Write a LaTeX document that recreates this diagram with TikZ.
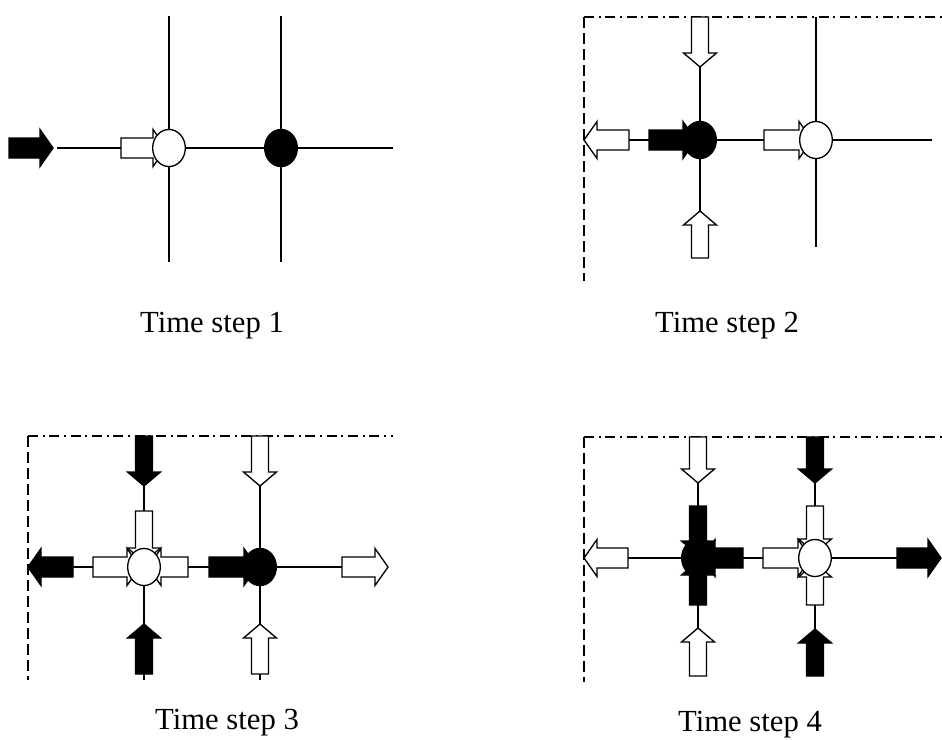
\documentclass[tikz,border=0pt]{standalone}
\usepackage{fontspec}
\setmainfont{Liberation Serif}
\usetikzlibrary{shapes.geometric}
\pgfdeclarelayer{bg}
\pgfsetlayers{bg,main}

% horizontal block arrow: #1 style, #2 tail x, #3 tip x, #4 y
\newcommand\HArr[4]{%
  \pgfmathsetmacro\HAbase{#3-13*sign(#3-#2)}%
  \draw[#1] (#2,#4-10) -- (\HAbase,#4-10) -- (\HAbase,#4-18.5) -- (#3,#4)
    -- (\HAbase,#4+18.5) -- (\HAbase,#4+10) -- (#2,#4+10) -- cycle;}
% vertical block arrow: #1 style, #2 tail y, #3 tip y, #4 x
\newcommand\VArr[4]{%
  \pgfmathsetmacro\VAbase{#3-14*sign(#3-#2)}%
  \draw[#1] (#4-8.5,#2) -- (#4-8.5,\VAbase) -- (#4-16.5,\VAbase) -- (#4,#3)
    -- (#4+16.5,\VAbase) -- (#4+8.5,\VAbase) -- (#4+8.5,#2) -- cycle;}

\tikzset{
  gline/.style={line width=1.1pt},
  wa/.style={draw=black, fill=white, line width=1pt, line join=miter},
  ba/.style={draw=black, fill=black, line width=1pt, line join=miter},
  wnode/.style={ellipse, draw=black, fill=white, line width=1pt,
    minimum width=24.5pt, minimum height=27.8pt, inner sep=0pt, outer sep=0pt},
  bnode/.style={wnode, fill=black},
  frameT/.style={line width=1pt, dash pattern=on 7.5pt off 3.5pt on 1.5pt off 3.5pt},
  frameL/.style={line width=1pt, dash pattern=on 8pt off 4pt},
  lab/.style={font=\fontsize{23}{27}\selectfont, inner sep=0pt, anchor=base}
}

\begin{document}
\begin{tikzpicture}[x=0.75pt, y=-0.75pt]
\useasboundingbox (0,0) rectangle (942,739);

% ---------- Panel 1 ----------
\node[wnode] (p1a) at (169,148) {};
\node[bnode] (p1b) at (281,148) {};
\coordinate (p1aT) at (169,16); \coordinate (p1aB) at (169,262);
\coordinate (p1bT) at (281,16); \coordinate (p1bB) at (281,262);
\coordinate (p1L) at (57,148);  \coordinate (p1R) at (393,148);
\node[lab] (t1) at (212,332) {Time step 1};

% ---------- Panel 2 ----------
\node[bnode] (p2a) at (700,140) {};
\node[wnode] (p2b) at (816,140) {};
\coordinate (p2aT) at (700,17); \coordinate (p2aB) at (700,258);
\coordinate (p2bT) at (816,17); \coordinate (p2bB) at (816,247);
\coordinate (p2L) at (629,140); \coordinate (p2R) at (932,140);
\coordinate (f2c) at (584,17); \coordinate (f2r) at (942,17); \coordinate (f2b) at (584,281);
\node[lab] (t2) at (727,332) {Time step 2};

% ---------- Panel 3 ----------
\node[wnode] (p3a) at (144,567) {};
\node[bnode] (p3b) at (260,567) {};
\coordinate (p3aT) at (144,436); \coordinate (p3aB) at (144,680);
\coordinate (p3bT) at (260,436); \coordinate (p3bB) at (260,680);
\coordinate (p3L) at (40,567); \coordinate (p3R) at (380,567);
\coordinate (f3c) at (28,436); \coordinate (f3r) at (393,436); \coordinate (f3b) at (28,680);
\node[lab] (t3) at (227,729) {Time step 3};

% ---------- Panel 4 ----------
\node[bnode] (p4a) at (698,558) {};
\node[wnode] (p4b) at (815,558) {};
\coordinate (p4aT) at (698,437); \coordinate (p4aB) at (698,676);
\coordinate (p4bT) at (815,437); \coordinate (p4bB) at (815,676);
\coordinate (p4L) at (628,558); \coordinate (p4R) at (900,558);
\coordinate (f4c) at (584,437); \coordinate (f4r) at (942,437); \coordinate (f4b) at (584,682);
\node[lab] (t4) at (750,731) {Time step 4};

\begin{pgfonlayer}{bg}
  % grid lines
  \draw[gline] (p1aT) -- (p1aB); \draw[gline] (p1bT) -- (p1bB); \draw[gline] (p1L) -- (p1R);
  \draw[gline] (p2aT) -- (p2aB); \draw[gline] (p2bT) -- (p2bB); \draw[gline] (p2L) -- (p2R);
  \draw[gline] (p3aT) -- (p3aB); \draw[gline] (p3bT) -- (p3bB); \draw[gline] (p3L) -- (p3R);
  \draw[gline] (p4aT) -- (p4aB); \draw[gline] (p4bT) -- (p4bB); \draw[gline] (p4L) -- (p4R);
  % frames
  \draw[frameT] (f2c) -- (f2r); \draw[frameL] (f2c) -- (f2b);
  \draw[frameT] (f3c) -- (f3r); \draw[frameL] (f3c) -- (f3b);
  \draw[frameT] (f4c) -- (f4r); \draw[frameL] (f4c) -- (f4b);

  % panel 1 arrows
  \HArr{ba}{9}{53}{148}
  \HArr{wa}{121}{166}{148}

  % panel 2 arrows
  \HArr{wa}{629}{584}{140}
  \HArr{ba}{649}{696}{140}
  \HArr{wa}{764}{812}{140}
  \VArr{wa}{17}{67}{700}
  \VArr{wa}{258}{211}{700}

  % panel 3 arrows
  \HArr{ba}{73}{28}{567}
  \HArr{wa}{93}{140}{567}
  \HArr{wa}{188}{148}{567}
  \VArr{wa}{511}{562}{144}
  \VArr{ba}{436}{486}{144}
  \VArr{ba}{674}{624}{144}
  \HArr{ba}{209}{257}{567}
  \VArr{wa}{436}{486}{260}
  \VArr{wa}{674}{624}{260}
  \HArr{wa}{342}{388}{567}

  % panel 4 arrows
  \HArr{wa}{628}{584}{558}
  \VArr{wa}{437}{483}{698}
  \VArr{wa}{676}{628}{698}
  \VArr{ba}{506}{555}{698}
  \VArr{ba}{605}{561}{698}
  \HArr{ba}{743}{702}{558}
  \HArr{wa}{763}{811}{558}
  \VArr{ba}{437}{483}{815}
  \VArr{wa}{506}{553}{815}
  \VArr{wa}{605}{563}{815}
  \VArr{ba}{676}{629}{815}
  \HArr{ba}{897}{941}{558}
\end{pgfonlayer}
\end{tikzpicture}
\end{document}
